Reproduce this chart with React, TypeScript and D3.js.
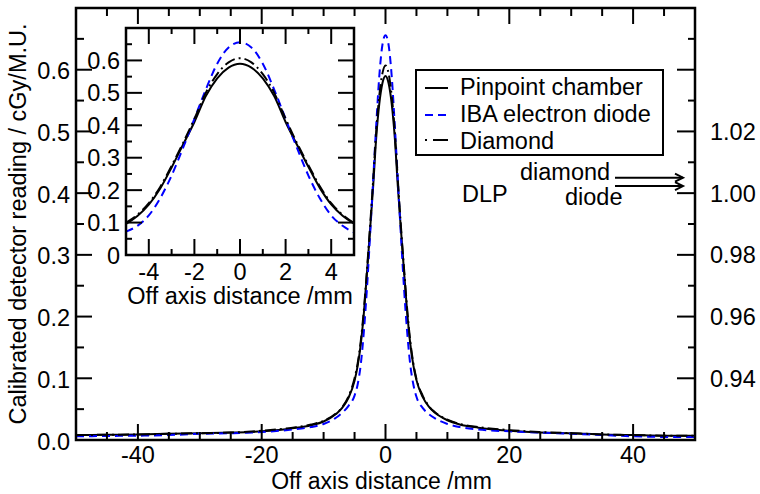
import React from "react";
import * as d3 from "d3";

// ---------- data ----------
const X = [-50, -45, -40, -35, -30, -25, -20, -15, -12, -10, -8, -7, -6, -5, -4.5, -4, -3.5, -3, -2.5, -2, -1.5, -1, -0.5, 0,
  0.5, 1, 1.5, 2, 2.5, 3, 3.5, 4, 4.5, 5, 6, 7, 8, 10, 12, 15, 20, 25, 30, 35, 40, 45, 50];
const PINPOINT = [0.008, 0.0085, 0.009, 0.010, 0.011, 0.012, 0.014, 0.019, 0.024, 0.030, 0.042, 0.052, 0.068, 0.096, 0.120, 0.155, 0.205, 0.270, 0.340, 0.410, 0.490, 0.545, 0.578, 0.590,
  0.578, 0.545, 0.490, 0.410, 0.340, 0.272, 0.207, 0.156, 0.121, 0.097, 0.070, 0.054, 0.044, 0.032, 0.025, 0.020, 0.015, 0.012, 0.011, 0.009, 0.008, 0.007, 0.007];
const DIODE = [0.006, 0.0065, 0.007, 0.008, 0.010, 0.011, 0.013, 0.017, 0.021, 0.026, 0.036, 0.044, 0.055, 0.072, 0.090, 0.122, 0.175, 0.245, 0.330, 0.420, 0.510, 0.590, 0.640, 0.656,
  0.640, 0.590, 0.510, 0.420, 0.330, 0.245, 0.175, 0.122, 0.090, 0.070, 0.052, 0.042, 0.035, 0.026, 0.021, 0.017, 0.014, 0.012, 0.010, 0.008, 0.006, 0.005, 0.005];
const DIAMOND = [0.008, 0.0085, 0.009, 0.010, 0.011, 0.012, 0.015, 0.020, 0.025, 0.031, 0.043, 0.053, 0.070, 0.100, 0.124, 0.160, 0.210, 0.275, 0.345, 0.420, 0.500, 0.558, 0.594, 0.607,
  0.594, 0.558, 0.500, 0.420, 0.345, 0.277, 0.212, 0.160, 0.124, 0.099, 0.072, 0.055, 0.045, 0.033, 0.026, 0.021, 0.016, 0.013, 0.011, 0.009, 0.008, 0.007, 0.007];

const SERIES = [
  { name: "Pinpoint chamber", values: PINPOINT, color: "#000000", dash: "none" },
  { name: "IBA electron diode", values: DIODE, color: "#0000ff", dash: "8,5" },
  { name: "Diamond", values: DIAMOND, color: "#000000", dash: "11,4,2,4" },
];

const MAIN_X_LABELS = ["-40", "-20", "0", "20", "40"];
const MAIN_Y_LABELS = ["0.0", "0.1", "0.2", "0.3", "0.4", "0.5", "0.6"];
const RIGHT_LABELS = ["0.94", "0.96", "0.98", "1.00", "1.02"];
const INSET_X_LABELS = ["-4", "-2", "0", "2", "4"];
const INSET_Y_LABELS = ["0", "0.1", "0.2", "0.3", "0.4", "0.5", "0.6"];
const DLP = [
  { label: "diamond", value: 1.005 },
  { label: "diode", value: 1.0023 },
];

// ---------- layout ----------
const W = 760, H = 494;
const M = { left: 76, right: 695, top: 8, bottom: 440 };
const I = { left: 126, right: 354, top: 28, bottom: 255 };
const FONT = "'Liberation Sans', Arial, Helvetica, sans-serif";
const FS = 23.5;
const MAJ = 16, MIN = 8;

export default function App() {
  const x = d3.scaleLinear().domain([-50, 50]).range([M.left, M.right]);
  const y = d3.scaleLinear().domain([0, 0.7]).range([M.bottom, M.top]);
  const yR = d3.scaleLinear().domain([0.92, 1.06]).range([M.bottom, M.top]);
  const xi = d3.scaleLinear().domain([-5, 5]).range([I.left, I.right]);
  const yi = d3.scaleLinear().domain([0, 0.7]).range([I.bottom, I.top]);

  const pts = (vals: number[]) => X.map((xv, i) => [xv, vals[i]] as [number, number]);
  const lineMain = d3.line<[number, number]>().x(d => x(d[0])).y(d => y(d[1])).curve(d3.curveMonotoneX);
  const lineInset = d3.line<[number, number]>().x(d => xi(d[0])).y(d => yi(d[1])).curve(d3.curveMonotoneX);

  const near = (a: number, b: number) => Math.abs(a - b) < 1e-6;
  const mainXMinor = d3.range(-50, 50.001, 5);
  const mainXMajor = MAIN_X_LABELS.map(Number);
  const mainYMinor = d3.range(0, 0.7001, 0.05);
  const mainYMajor = MAIN_Y_LABELS.map(Number);
  const rightMinor = d3.range(0.92, 1.0601, 0.01);
  const rightMajor = d3.range(0.92, 1.0601, 0.02);
  const inXMinor = d3.range(-5, 5.001, 1);
  const inXMajor = d3.range(-4, 4.001, 2);
  const inYMinor = d3.range(0, 0.7001, 0.05);
  const inYMajor = d3.range(0, 0.7001, 0.1);

  const tick = (key: string, x1: number, y1: number, x2: number, y2: number) => (
    <line key={key} x1={x1} y1={y1} x2={x2} y2={y2} stroke="#000" strokeWidth={2} />
  );

  return (
    <svg width={W} height={H} style={{ position: "absolute", left: 0, top: 0, background: "#fff" }}
      fontFamily={FONT} fontSize={FS}>
      <defs>
        <clipPath id="clipMain"><rect x={M.left} y={M.top} width={M.right - M.left} height={M.bottom - M.top} /></clipPath>
        <clipPath id="clipInset"><rect x={I.left} y={I.top} width={I.right - I.left} height={I.bottom - I.top} /></clipPath>
      </defs>
      <rect x={0} y={0} width={W} height={H} fill="#fff" />

      {/* main curves */}
      <g clipPath="url(#clipMain)">
        {SERIES.map(s => (
          <path key={s.name} d={lineMain(pts(s.values)) || ""} fill="none" stroke={s.color}
            strokeWidth={2} strokeDasharray={s.dash} />
        ))}
      </g>

      {/* main ticks */}
      {mainXMinor.map(v => {
        const L = mainXMajor.some(m => near(m, v)) ? MAJ : MIN;
        return (
          <g key={"mx" + v}>
            {tick("b", x(v), M.bottom, x(v), M.bottom - L)}
            {tick("t", x(v), M.top, x(v), M.top + L)}
          </g>
        );
      })}
      {mainYMinor.map(v => {
        const L = mainYMajor.some(m => near(m, v)) ? MAJ : MIN;
        return <g key={"my" + v}>{tick("l", M.left, y(v), M.left + L, y(v))}</g>;
      })}
      {rightMinor.map(v => {
        const L = rightMajor.some(m => near(m, v)) ? MAJ + 2 : MIN - 1;
        return <g key={"ry" + v}>{tick("r", M.right, yR(v), M.right - L, yR(v))}</g>;
      })}

      {/* main frame */}
      <rect x={M.left} y={M.top} width={M.right - M.left} height={M.bottom - M.top} fill="none" stroke="#000" strokeWidth={2.5} />

      {/* main labels */}
      {MAIN_X_LABELS.map(l => (
        <text key={"xl" + l} x={x(Number(l))} y={463} textAnchor="middle">{l}</text>
      ))}
      {MAIN_Y_LABELS.map(l => (
        <text key={"yl" + l} x={70} y={y(Number(l)) + 9.5} textAnchor="end">{l}</text>
      ))}
      {RIGHT_LABELS.map(l => (
        <text key={"rl" + l} x={710} y={yR(Number(l)) + 8.5} textAnchor="start">{l}</text>
      ))}
      <text x={(M.left + M.right) / 2 - 4} y={489} textAnchor="middle" fontSize={23}>Off axis distance /mm</text>
      <text transform={`translate(26,${(M.top + M.bottom) / 2}) rotate(-90)`} textAnchor="middle">
        Calibrated detector reading / cGy/M.U.
      </text>

      {/* legend */}
      <rect x={416} y={70} width={247} height={85} fill="#fff" stroke="#000" strokeWidth={2} />
      {SERIES.map((s, i) => {
        const ly = [88, 115, 140][i];
        const by = [95, 122, 148.5][i];
        return (
          <g key={"lg" + s.name}>
            <line x1={425} x2={448} y1={ly} y2={ly} stroke={s.color} strokeWidth={2} strokeDasharray={s.dash === "none" ? undefined : (i === 1 ? "8,5" : "2,6,15,0")} />
            <text x={460} y={by}>{s.name}</text>
          </g>
        );
      })}

      {/* DLP annotation */}
      <text x={462} y={201.5}>DLP</text>
      <text x={520} y={180}>{DLP[0].label}</text>
      <text x={565} y={205}>{DLP[1].label}</text>
      {DLP.map(d => {
        const ay = yR(d.value);
        return (
          <g key={"ar" + d.label} stroke="#000" strokeWidth={2} fill="none">
            <line x1={615} x2={683} y1={ay} y2={ay} />
            <polyline points={`${675},${ay - 4} ${683},${ay} ${675},${ay + 4}`} />
          </g>
        );
      })}

      {/* inset */}
      <rect x={I.left} y={I.top} width={I.right - I.left} height={I.bottom - I.top} fill="#fff" />
      <g clipPath="url(#clipInset)">
        {SERIES.map(s => (
          <path key={"in" + s.name} d={lineInset(pts(s.values)) || ""} fill="none" stroke={s.color}
            strokeWidth={2} strokeDasharray={s.dash} />
        ))}
      </g>
      {inXMinor.map(v => {
        const L = inXMajor.some(m => near(m, v)) ? MAJ : MIN - 2;
        return (
          <g key={"ix" + v}>
            {tick("b", xi(v), I.bottom, xi(v), I.bottom - L)}
            {tick("t", xi(v), I.top, xi(v), I.top + L)}
          </g>
        );
      })}
      {inYMinor.map(v => {
        const L = inYMajor.some(m => near(m, v)) ? MAJ : MIN - 2;
        return (
          <g key={"iy" + v}>
            {tick("l", I.left, yi(v), I.left + L, yi(v))}
            {tick("r", I.right, yi(v), I.right - L, yi(v))}
          </g>
        );
      })}
      <rect x={I.left} y={I.top} width={I.right - I.left} height={I.bottom - I.top} fill="none" stroke="#000" strokeWidth={2.5} />
      {INSET_X_LABELS.map(l => (
        <text key={"ixl" + l} x={xi(Number(l))} y={280} textAnchor="middle">{l}</text>
      ))}
      {INSET_Y_LABELS.map(l => (
        <text key={"iyl" + l} x={120} y={yi(Number(l)) + 8.5} textAnchor="end">{l}</text>
      ))}
      <text x={(I.left + I.right) / 2} y={304} textAnchor="middle">Off axis distance /mm</text>
    </svg>
  );
}
